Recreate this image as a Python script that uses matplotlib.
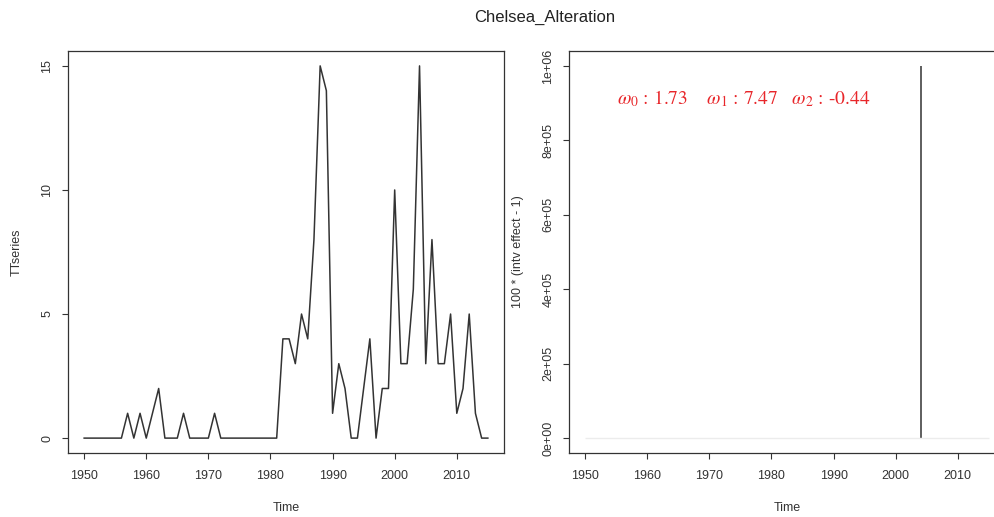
import matplotlib
matplotlib.use("Agg")
import matplotlib.pyplot as plt

years = list(range(1950, 2016))

# TTseries counts, 1950-2015
tt_series = [0, 0, 0, 0, 0, 0, 0, 1, 0, 1,
             0, 1, 2, 0, 0, 0, 1, 0, 0, 0,
             0, 1, 0, 0, 0, 0, 0, 0, 0, 0,
             0, 0, 4, 4, 3, 5, 4, 8, 15, 14,
             1, 3, 2, 0, 0, 2, 4, 0, 2, 2,
             10, 3, 3, 6, 15, 3, 8, 3, 3, 5,
             1, 2, 5, 1, 0, 0]

# 100 * (intv effect - 1), 1950-2015
intv_effect = [0, 0, 0, 0, 0, 0, 0, 0, 0, 0,
               0, 0, 0, 0, 0, 0, 0, 0, 0, 0,
               0, 0, 0, 0, 0, 0, 0, 0, 0, 0,
               0, 0, 0, 0, 0, 0, 0, 0, 0, 0,
               0, 0, 0, 0, 0, 0, 0, 0, 0, 0,
               0, 0, 0, 0, 1.0e6, 0, 0, 0, 0, 0,
               0, 0, 0, 0, 0, 0]

x_ticks = [1950, 1960, 1970, 1980, 1990, 2000, 2010]
left_yticks = [0, 5, 10, 15]
right_yticks = [0, 2e5, 4e5, 6e5, 8e5, 1e6]
right_ylabels = ["0e+00", "2e+05", "4e+05", "6e+05", "8e+05", "1e+06"]
omega_text = r"$\omega_0$ : 1.73    $\omega_1$ : 7.47   $\omega_2$ : -0.44"

plt.rcParams["font.family"] = ["Liberation Sans", "DejaVu Sans"]
plt.rcParams["mathtext.fontset"] = "stix"

fg = "#333333"
fig = plt.figure(figsize=(9.95, 5.17), dpi=100)

xmin, xmax = 1950 - 0.04 * 65, 2015 + 0.04 * 65
yr_px = 436 / (xmax - xmin)

ax1 = fig.add_axes([68 / 995, 64 / 517, 436 / 995, 402 / 517])
# right panel is cut off by the right edge of the picture
w2 = 470
ax2 = fig.add_axes([569 / 995, 64 / 517, w2 / 995, 402 / 517])

# left panel
ax1.plot(years, tt_series, color=fg, lw=1.1)
ax1.set_xlim(xmin, xmax)
ax1.set_ylim(-0.6, 15.6)
ax1.set_xticks(x_ticks)
ax1.set_yticks(left_yticks)
ax1.set_yticklabels([str(v) for v in left_yticks], rotation=90, va="center")
ax1.set_xlabel("Time", fontsize=9, color=fg, va="center")
ax1.xaxis.set_label_coords(0.5, (453 - 508) / 402)
ax1.set_ylabel("TTseries", fontsize=9, color=fg, va="center")
ax1.yaxis.set_label_coords((17 - 68) / 436, 0.5)

# right panel
ax2.vlines(years, 0, intv_effect, color=fg, lw=1.1)
ax2.hlines(0, years[0], years[-1], color="#ececec", lw=1.0)
ax2.set_xlim(xmin, xmin + w2 / yr_px)
ax2.set_ylim(-0.04e6, 1.04e6)
ax2.set_xticks(x_ticks)
ax2.set_yticks(right_yticks)
ax2.set_yticklabels(right_ylabels, rotation=90, va="center")
ax2.set_xlabel("Time", fontsize=9, color=fg, va="center")
ax2.xaxis.set_label_coords(436 / 2 / w2, (453 - 508) / 402)
ax2.set_ylabel("100 * (intv effect - 1)", fontsize=9, color=fg, va="center")
ax2.yaxis.set_label_coords((518 - 569) / w2, 0.5)
ax2.text(1975.5, 0.912e6, omega_text, color="#e8262a", fontsize=14,
         family="STIXGeneral", ha="center", va="center")

for ax in (ax1, ax2):
    ax.tick_params(direction="out", length=4.5, width=0.8, color=fg,
                   labelsize=9, labelcolor=fg, pad=6)
    ax.tick_params(axis="x", pad=8)
    for sp in ax.spines.values():
        sp.set_color(fg)
        sp.set_linewidth(0.9)

fig.text(545 / 995, 1 - 17 / 517, "Chelsea_Alteration", ha="center", va="center",
         fontsize=12, color="#222222")

fig.savefig("out.png", dpi=100)
print("Saved: out.png")
